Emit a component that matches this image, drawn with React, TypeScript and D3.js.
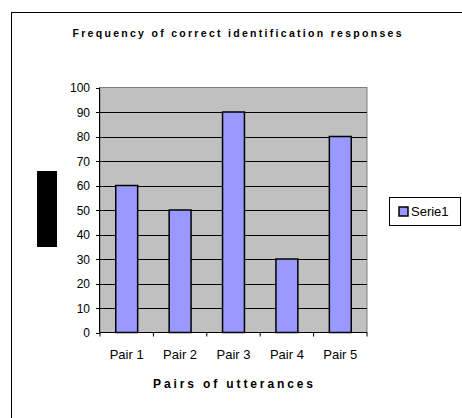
import React from "react";
import * as d3 from "d3";

const categories = ["Pair 1", "Pair 2", "Pair 3", "Pair 4", "Pair 5"];
const serie1 = [60, 50, 90, 30, 80];
const yTicks = [0, 10, 20, 30, 40, 50, 60, 70, 80, 90, 100];
const seriesName = "Serie1";
const chartTitle = "Frequency of correct identification responses";
const xTitle = "Pairs of utterances";

const W = 462;
const H = 418;
const plot = { left: 100, right: 367, top: 87.5, bottom: 332.5 };
const font = "'Liberation Sans', Arial, sans-serif";

export default function App() {
  const x = d3
    .scaleBand<string>()
    .domain(categories)
    .range([plot.left, plot.right])
    .paddingInner(0.59)
    .paddingOuter(0.295);
  const y = d3.scaleLinear().domain([0, 100]).range([plot.bottom, plot.top]);
  const step = (plot.right - plot.left) / categories.length;
  const boundaries = d3.range(categories.length + 1).map((i) => plot.left + i * step);

  return (
    <svg
      width={W}
      height={H}
      style={{ position: "absolute", left: 0, top: 0, background: "#fff" }}
      fontFamily={font}
    >
      <rect x={0} y={0} width={W} height={H} fill="#fff" />
      {/* outer chart frame */}
      <rect x={11.5} y={12.5} width={W + 20} height={H + 20} fill="none" stroke="#000" strokeWidth={1} />

      {/* title */}
      <text
        x={237}
        y={37}
        textAnchor="middle"
        fontSize={10.5}
        fontWeight="bold"
        textLength={329}
        lengthAdjust="spacing"
        fill="#000"
      >
        {chartTitle}
      </text>

      {/* plot area */}
      <rect
        x={plot.left}
        y={plot.top}
        width={plot.right - plot.left}
        height={plot.bottom - plot.top}
        fill="#C0C0C0"
        stroke="#808080"
        strokeWidth={1}
      />
      {yTicks
        .filter((t) => t > 0 && t < 100)
        .map((t) => (
          <line
            key={"g" + t}
            x1={plot.left}
            x2={plot.right}
            y1={Math.round(y(t)) + 0.5}
            y2={Math.round(y(t)) + 0.5}
            stroke="#000"
            strokeWidth={1}
          />
        ))}

      {/* bars */}
      {categories.map((c, i) => (
        <rect
          key={c}
          x={x(c)!}
          y={y(serie1[i])}
          width={x.bandwidth()}
          height={y(0) - y(serie1[i])}
          fill="#9999FF"
          stroke="#000"
          strokeWidth={1.5}
        />
      ))}

      {/* y axis */}
      <line x1={plot.left - 0.5} x2={plot.left - 0.5} y1={plot.top} y2={plot.bottom} stroke="#000" />
      {yTicks.map((t) => (
        <g key={"y" + t}>
          <line
            x1={plot.left - 4}
            x2={plot.left}
            y1={Math.round(y(t)) + 0.5}
            y2={Math.round(y(t)) + 0.5}
            stroke="#000"
          />
          <text x={plot.left - 10} y={y(t) + 4.5} textAnchor="end" fontSize={12} fill="#000">
            {t}
          </text>
        </g>
      ))}

      {/* x axis */}
      <line x1={plot.left} x2={plot.right} y1={plot.bottom} y2={plot.bottom} stroke="#000" />
      {boundaries.map((bx, i) => (
        <line key={"xt" + i} x1={bx} x2={bx} y1={plot.bottom} y2={plot.bottom + 4} stroke="#000" />
      ))}
      {categories.map((c) => (
        <text
          key={"xl" + c}
          x={x(c)! + x.bandwidth() / 2}
          y={359}
          textAnchor="middle"
          fontSize={13}
          fill="#000"
        >
          {c}
        </text>
      ))}
      <text
        x={233}
        y={388}
        textAnchor="middle"
        fontSize={12}
        fontWeight="bold"
        textLength={160}
        lengthAdjust="spacing"
        fill="#000"
      >
        {xTitle}
      </text>

      {/* redacted y axis title */}
      <rect x={37} y={171} width={20} height={76} fill="#000" />

      {/* legend */}
      <rect x={389.5} y={197.5} width={71} height={28} fill="#fff" stroke="#000" strokeWidth={1} />
      <rect x={399} y={207} width={9} height={9} fill="#9999FF" stroke="#000" strokeWidth={1.5} />
      <text x={411} y={216} fontSize={13} fill="#000">
        {seriesName}
      </text>
    </svg>
  );
}
